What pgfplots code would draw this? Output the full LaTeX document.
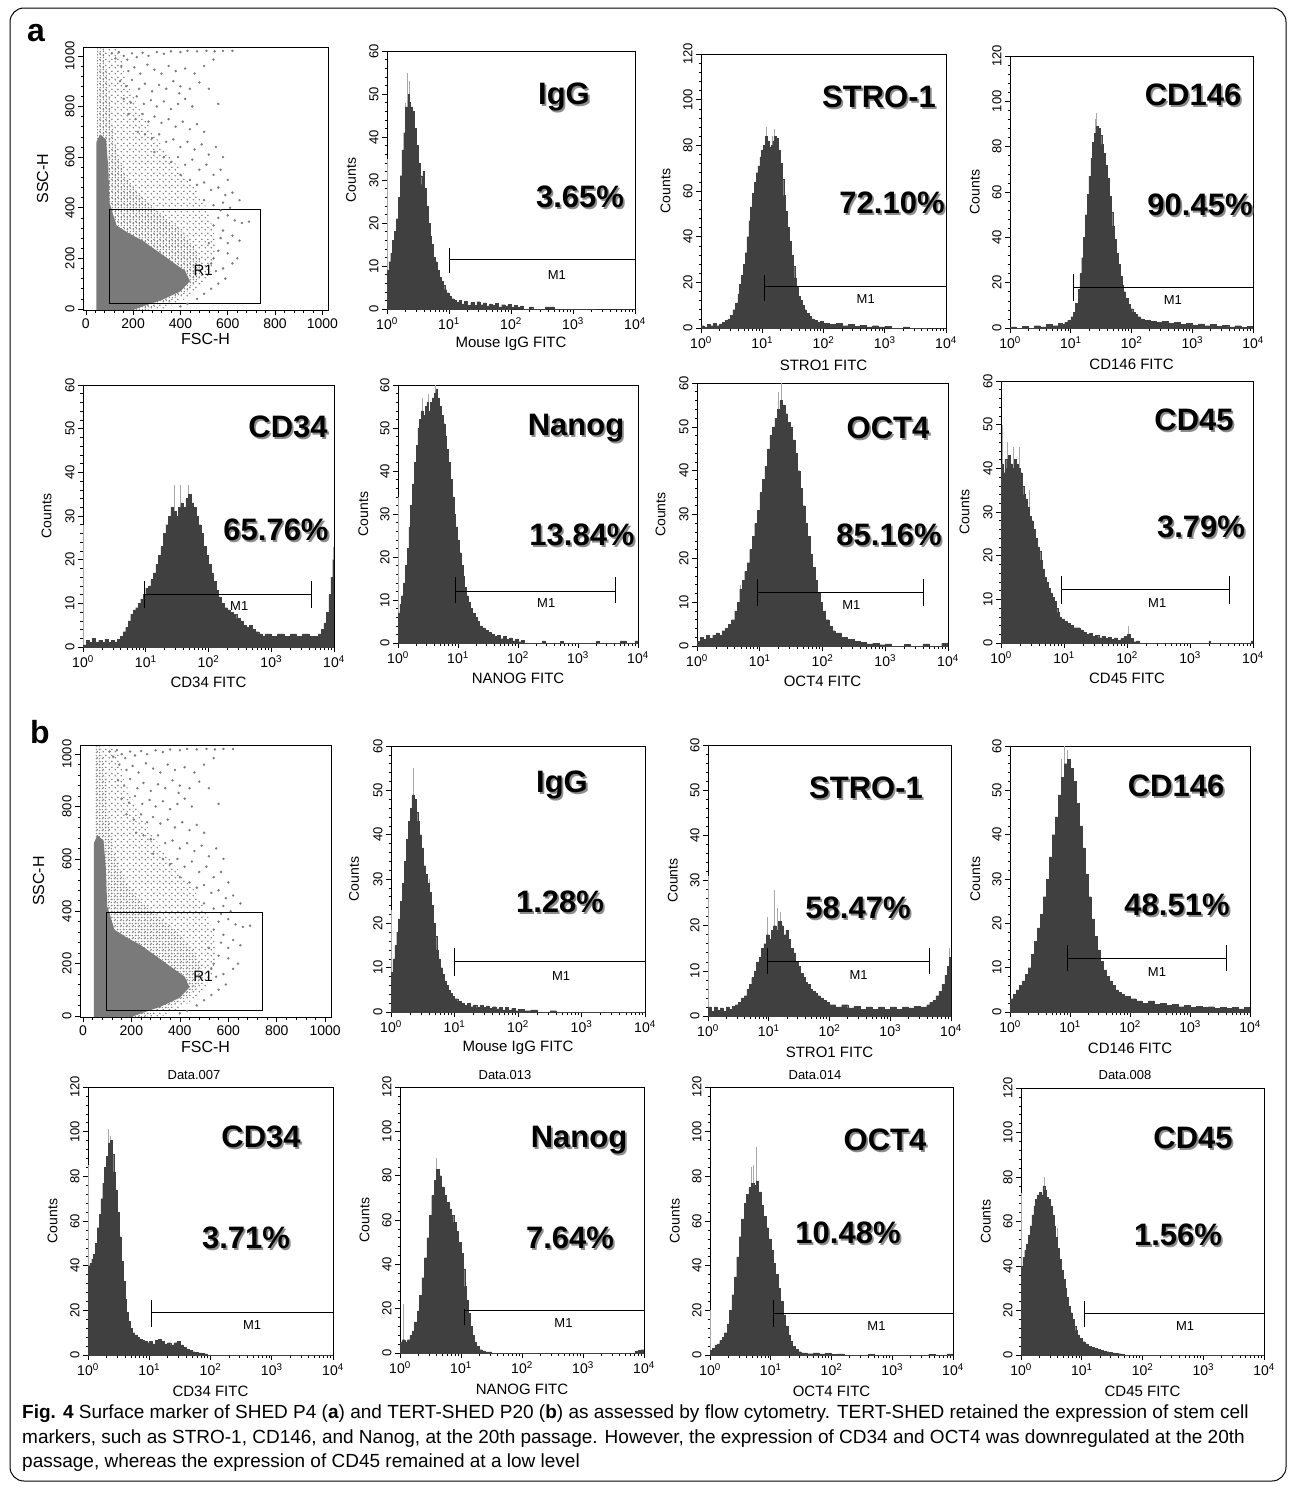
\documentclass[border=0pt]{standalone}
\usepackage{fontspec}
\setmainfont{Liberation Sans}
\newfontfamily\capfont{Liberation Sans}
\usepackage{pgfplots}
\pgfplotsset{compat=1.18}
\usetikzlibrary{patterns.meta}

\definecolor{histfill}{HTML}{404040}
\definecolor{spike}{HTML}{A8A8A8}
\definecolor{dotgray}{HTML}{7A7A7A}
\definecolor{shadow}{HTML}{8C8C8C}

\newcommand\fs[1]{\fontsize{#1}{#1}\selectfont}
\newcommand\dec[1]{10\textsuperscript{#1}}

\tikzdeclarepattern{name=fdots, type=uncolored,
  bounding box={(0pt,0pt) and (3.2pt,3.2pt)}, tile size={(3.2pt,3.2pt)},
  code={\fill (1.6pt,1.6pt) circle (0.9pt);}}
\tikzdeclarepattern{name=sdots, type=uncolored,
  bounding box={(0pt,0pt) and (6pt,6pt)}, tile size={(6pt,6pt)},
  code={\fill (1.5pt,1.5pt) circle (0.95pt); \fill (4.5pt,4.2pt) circle (0.95pt);}}

\pgfplotsset{
  facsbase/.style={
    scale only axis, anchor=south west,
    axis line style={line width=0.9pt},
    tick align=outside, xtick pos=bottom, ytick pos=left,
    major tick length=5pt, minor tick length=2.5pt,
    every tick/.style={black, line width=0.6pt},
    /pgf/number format/assume math mode=true,
    /pgf/number format/1000 sep={},
    tick label style={font=\fs{14}},
    yticklabel style={rotate=90, anchor=south, font=\fs{13}},
    every axis x label/.style={at={(axis description cs:0.5,-0.135)}, anchor=center, font=\fs{15}},
    every axis y label/.style={at={(axis description cs:-0.145,0.5)}, anchor=center, rotate=90, font=\fs{14}},
  },
  hist/.style={facsbase, xmin=0, xmax=4, ymin=0,
    xtick={0,1,2,3,4}, xticklabels={\dec0,\dec1,\dec2,\dec3,\dec4},
    minor xtick={0.301,0.477,0.602,0.699,0.778,0.845,0.903,0.954,
      1.301,1.477,1.602,1.699,1.778,1.845,1.903,1.954,
      2.301,2.477,2.602,2.699,2.778,2.845,2.903,2.954,
      3.301,3.477,3.602,3.699,3.778,3.845,3.903,3.954},
    ylabel=Counts},
  h60/.style={hist, ymax=60, ytick={0,10,...,60}, minor ytick={2,4,...,58}},
  h120/.style={hist, ymax=120, ytick={0,20,...,120}, minor ytick={4,8,...,116}},
  scat/.style={facsbase, xmin=-12, xmax=1024, ymin=-4, ymax=1035,
    xtick={0,200,...,1000}, ytick={0,200,...,1000}, minor tick num=4,
    every axis x label/.style={at={(axis description cs:0.5,-0.11)}, anchor=center, font=\fs{16}},
    every axis y label/.style={at={(axis description cs:-0.165,0.5)}, anchor=center, rotate=90, font=\fs{16}},
    xlabel=FSC-H, ylabel=SSC-H},
  spikes/.style={ycomb, draw=spike, line width=0.9pt, forget plot},
  histo/.style={const plot, fill=histfill, draw=histfill, line width=0.3pt},
}

% M1 marker: line to right edge, tick at left
\newcommand\MoneL[6]{%
  \draw[line width=0.7pt] (axis cs:#2,#1) -- (axis cs:4,#1);
  \draw[line width=0.7pt] (axis cs:#2,#3) -- (axis cs:#2,#4);
  \node[font=\fs{13}] at (axis cs:#5,#6) {M1};}
% M1 marker with ticks at both ends
\newcommand\MoneB[7]{%
  \draw[line width=0.7pt] (axis cs:#2,#1) -- (axis cs:#3,#1);
  \draw[line width=0.7pt] (axis cs:#2,#4) -- (axis cs:#2,#5);
  \draw[line width=0.7pt] (axis cs:#3,#4) -- (axis cs:#3,#5);
  \node[font=\fs{13}] at (axis cs:#6,#7) {M1};}

\newcommand\biglabel[3]{%
  \node[text=shadow, font=\bfseries\fs{31}] at (#1pt+1.8pt,-#2pt-1.8pt) {#3};
  \node[font=\bfseries\fs{31}] at (#1pt,-#2pt) {#3};}

% scatter: sparse events outside the dense core
\pgfplotstableread{
x y
110 1010
125 990
140 1015
160 1000
175 985
195 1010
215 995
240 1012
265 1000
300 1015
330 1008
360 1018
400 1015
430 1020
470 1018
510 1020
545 1018
580 1020
620 1020
150 960
180 940
205 955
230 930
260 965
290 945
320 930
350 960
380 940
420 950
460 930
500 960
540 985
145 900
170 880
195 905
225 870
250 890
280 860
310 885
340 870
370 900
400 880
440 870
480 895
520 870
560 810
160 830
190 815
215 840
245 810
275 825
300 800
330 820
360 790
390 810
420 830
450 800
395 852
180 770
210 750
240 770
265 740
290 760
320 735
350 750
380 720
410 740
440 710
470 730
500 700
220 700
250 690
280 675
310 690
340 660
370 670
400 640
430 660
460 630
490 650
520 610
550 640
580 600
290 620
330 600
360 580
390 600
420 570
450 590
480 550
510 570
540 530
570 550
600 510
400 530
440 510
470 490
500 500
530 470
560 480
590 450
620 460
650 430
580 420
610 400
500 430
540 410
570 390
600 370
630 350
660 340
690 345
560 360
540 330
580 310
620 290
650 270
600 260
570 280
560 230
600 220
640 200
620 180
580 160
550 150
590 120
560 100
530 80
500 60
470 40
430 20
400 10
540 200
520 260
530 180
}\scatterpts

\newcommand\scatterbody{%
  \addplot[pattern={sdots}, pattern color=dotgray, draw=none] coordinates {
    (50,1030) (140,1030) (170,900) (220,800) (280,700) (340,620) (400,550)
    (460,480) (510,400) (540,310) (550,230) (530,150) (490,90) (420,40)
    (320,-4) (50,-4)} -- cycle;
  \addplot[pattern={fdots}, pattern color=dotgray, draw=none] coordinates {
    (46,600) (48,1030) (75,1030) (95,900) (105,760) (130,620) (170,520)
    (230,450) (300,390) (380,330) (450,260) (490,190) (480,120) (430,70)
    (350,30) (260,-4) (46,-4)} -- cycle;
  \addplot[fill=dotgray, draw=none] coordinates {
    (45,-4) (45,660) (60,690) (85,670) (95,560) (100,420) (130,330) (180,300)
    (240,270) (300,230) (360,190) (420,150) (440,110) (400,70) (320,35)
    (240,10) (200,-4)} -- cycle;
  \addplot[only marks, mark=*, mark size=1pt, dotgray] table {\scatterpts};
  \draw[line width=0.7pt] (axis cs:98,21) rectangle (axis cs:740,395);
  \node[font=\fs{15}] at (axis cs:496,153) {R1};}

\begin{document}
\begin{tikzpicture}
\useasboundingbox (0,0) rectangle (1295pt,-1491pt);
\draw[line width=1pt, rounded corners=14pt] (10pt,-8pt) rectangle (1286pt,-1481pt);
\node[font=\bfseries\fs{32}] at (36pt,-33pt) {a};
\node[font=\bfseries\fs{32}] at (40pt,-732pt) {b};

% ---------- a, top row ----------
\begin{axis}[scat, at={(83pt,-310pt)}, width=245pt, height=263pt]
\scatterbody
\end{axis}

\begin{axis}[h60, at={(387pt,-309pt)}, width=248pt, height=258pt, xlabel={Mouse IgG FITC}]
\addplot[spikes] coordinates {(0.01,35) (0.33,55) (0.36,53) (0.6,32) (0.3,48)};
\addplot[histo] coordinates {(0,9) (0.03,11) (0.06,13) (0.09,16) (0.12,18) (0.15,21) (0.18,26) (0.21,31) (0.24,37) (0.27,41) (0.3,47) (0.32,44) (0.34,50) (0.36,48) (0.38,47) (0.41,46) (0.44,42) (0.47,38) (0.5,34) (0.53,31) (0.56,29) (0.58,32) (0.6,28) (0.63,24) (0.66,20) (0.69,17) (0.72,15) (0.75,12) (0.78,11) (0.81,9) (0.84,7.5) (0.87,6.5) (0.9,5.5) (0.93,4.5) (0.96,3.8) (1,3) (1.04,2.4) (1.08,2) (1.12,1.6) (1.16,2) (1.2,1.2) (1.25,1.8) (1.3,0.9) (1.35,1.5) (1.4,0.8) (1.45,1.7) (1.5,1) (1.55,1.4) (1.6,0.7) (1.65,1.2) (1.7,0.8) (1.75,1.3) (1.8,0.5) (1.85,1) (1.9,0.6) (1.95,1.1) (2,0.5) (2.05,0.9) (2.1,0.4) (2.15,0.7) (2.2,0) (2.3,0.5) (2.35,0) (2.55,0.5) (2.62,0.5) (2.7,0) (4,0)} \closedcycle;
\MoneL{11.5}{1.0}{8.4}{14.3}{2.74}{8}
\end{axis}

\begin{axis}[h120, at={(701pt,-328pt)}, width=245pt, height=274pt, xlabel={STRO1 FITC}]
\addplot[spikes] coordinates {(1.07,88) (1.2,87) (1.17,84)};
\addplot[histo] coordinates {(0,1) (0.05,0.5) (0.1,1.5) (0.15,1) (0.2,2) (0.25,1) (0.3,1.8) (0.35,2.5) (0.4,3.5) (0.44,4) (0.48,5.5) (0.52,8) (0.56,11) (0.6,15) (0.63,19) (0.66,23) (0.69,28) (0.72,33) (0.75,40) (0.78,47) (0.81,53) (0.84,59) (0.87,64) (0.9,68) (0.93,71) (0.96,75) (0.99,78) (1.02,80) (1.05,84) (1.08,82) (1.11,79) (1.14,80) (1.17,82) (1.2,84) (1.23,83) (1.26,78) (1.29,72) (1.32,65) (1.35,58) (1.38,51) (1.41,44) (1.44,38) (1.47,32) (1.5,27) (1.53,22) (1.56,18) (1.59,14) (1.62,12) (1.65,10) (1.68,8) (1.72,6.5) (1.76,5) (1.8,4) (1.85,3.5) (1.9,2.5) (1.95,3) (2,2) (2.1,1.5) (2.2,2) (2.3,1) (2.4,1.5) (2.5,0.8) (2.6,1.2) (2.7,0.5) (2.8,1) (2.9,0.5) (3,0.8) (3.1,0) (3.3,0.5) (3.4,0) (4,0)} \closedcycle;
\MoneL{18.3}{1.04}{12}{23}{2.69}{12.9}
\end{axis}

\begin{axis}[h120, at={(1010pt,-328pt)}, width=243pt, height=272pt, xlabel={CD146 FITC}]
\addplot[spikes] coordinates {(1.42,95) (1.4,92)};
\addplot[histo] coordinates {(0,0.5) (0.1,0) (0.2,0.8) (0.3,0) (0.4,1) (0.5,0.5) (0.6,1.5) (0.7,1) (0.8,2) (0.85,1.5) (0.9,2.5) (0.95,3.5) (1,5) (1.04,7) (1.08,11) (1.12,17) (1.15,24) (1.18,31) (1.21,40) (1.24,50) (1.27,59) (1.3,67) (1.33,75) (1.36,82) (1.39,86) (1.42,89) (1.45,88) (1.48,85) (1.51,81) (1.54,77) (1.57,72) (1.6,66) (1.63,58) (1.66,51) (1.69,45) (1.72,39) (1.75,33) (1.78,28) (1.81,23) (1.84,19) (1.87,16) (1.9,13) (1.94,10.5) (1.98,8.5) (2.02,7) (2.06,6) (2.1,5) (2.15,4) (2.2,3.5) (2.3,3) (2.4,2.5) (2.5,3) (2.6,2) (2.7,2.5) (2.8,1.5) (2.9,2) (3,1.2) (3.1,1.8) (3.2,1) (3.3,1.5) (3.4,0.8) (3.5,1.2) (3.6,0.5) (3.7,1) (3.8,0.3) (3.9,0.6) (4,0)} \closedcycle;
\MoneL{18}{1.04}{12}{24}{2.68}{12.5}
\end{axis}

% ---------- a, bottom row ----------
\begin{axis}[h60, at={(83pt,-647pt)}, width=251pt, height=262pt, xlabel={CD34 FITC}]
\addplot[spikes] coordinates {(0.005,28) (1.45,37) (1.56,37) (1.68,37) (3.99,23)};
\addplot[histo] coordinates {(0,0.5) (0.05,1.5) (0.1,1) (0.15,2) (0.2,1) (0.25,1.5) (0.3,1) (0.35,1.8) (0.4,1) (0.45,1.5) (0.5,1.2) (0.55,1.8) (0.6,2.5) (0.64,3.5) (0.68,4.5) (0.72,6) (0.76,7.5) (0.8,8.5) (0.84,9) (0.88,10) (0.92,11) (0.96,12) (1,13.5) (1.04,14) (1.08,15.5) (1.12,17) (1.16,19) (1.2,21) (1.24,23) (1.28,26) (1.32,28) (1.36,30) (1.4,32) (1.44,31) (1.48,30) (1.52,32) (1.56,33) (1.6,32) (1.64,34) (1.68,35) (1.72,33) (1.76,32) (1.8,30) (1.84,28) (1.88,26) (1.92,23) (1.96,21) (2,19) (2.04,17) (2.08,15) (2.12,13) (2.16,11.5) (2.2,10) (2.25,9) (2.3,8.5) (2.35,8) (2.4,7.5) (2.45,6.5) (2.5,6) (2.55,5) (2.6,4.5) (2.65,5) (2.7,4) (2.75,3.5) (2.8,3) (2.85,2.5) (2.9,3) (3,2.5) (3.1,3) (3.2,2.5) (3.3,3) (3.4,2.5) (3.5,3) (3.6,2.5) (3.7,2.5) (3.75,3) (3.8,4) (3.84,5.5) (3.88,8) (3.92,12) (3.95,16) (3.98,20) (4,20)} \closedcycle;
\MoneB{12}{0.985}{3.64}{8.9}{15.2}{2.49}{9.3}
\end{axis}

\begin{axis}[h60, at={(398pt,-643pt)}, width=240pt, height=258pt, xlabel={NANOG FITC}]
\addplot[spikes] coordinates {(0.005,34) (0.4,57) (0.5,58) (0.62,60)};
\addplot[histo] coordinates {(0,7) (0.03,9) (0.06,11) (0.09,14) (0.12,18) (0.15,22) (0.18,27) (0.21,32) (0.24,37) (0.27,42) (0.3,46) (0.33,50) (0.36,52) (0.39,54) (0.42,53) (0.45,55) (0.48,56) (0.51,54) (0.54,56) (0.57,57) (0.6,58) (0.63,59) (0.66,57) (0.69,55) (0.72,53) (0.75,51) (0.78,48) (0.81,45) (0.84,42) (0.87,38) (0.9,34) (0.93,30) (0.96,27) (0.99,24) (1.02,21) (1.05,18) (1.08,15.5) (1.11,13) (1.14,11) (1.17,9.5) (1.2,8) (1.24,7) (1.28,6) (1.32,5) (1.36,4) (1.4,3.5) (1.45,3) (1.5,2.5) (1.55,2) (1.6,1.5) (1.65,1.8) (1.7,1) (1.75,1.5) (1.8,0.8) (1.85,1.2) (1.9,0.5) (1.95,0.8) (2,0.3) (2.05,0.6) (2.1,0) (2.4,0.5) (2.45,0) (2.7,0.4) (2.75,0) (3.3,0.4) (3.35,0) (3.7,0.5) (3.8,0) (3.95,0.5) (4,0)} \closedcycle;
\MoneB{12.1}{0.96}{3.62}{9.2}{15.4}{2.47}{9.2}
\end{axis}

\begin{axis}[h60, at={(697pt,-646pt)}, width=251pt, height=263pt, xlabel={OCT4 FITC}]
\addplot[spikes] coordinates {(1.34,60) (1.3,58) (0.7,14)};
\addplot[histo] coordinates {(0,1) (0.05,2) (0.1,1.5) (0.15,2.5) (0.2,1.8) (0.25,2.5) (0.3,3) (0.35,2.5) (0.4,3.5) (0.45,4) (0.5,5) (0.55,6) (0.6,8) (0.64,10) (0.68,13) (0.72,15) (0.76,17) (0.8,19) (0.84,22) (0.88,25) (0.92,28) (0.96,31) (1,35) (1.04,38) (1.08,41) (1.12,45) (1.16,48) (1.2,50) (1.24,52) (1.28,54) (1.32,56) (1.36,55) (1.4,53) (1.44,51) (1.48,50) (1.52,47) (1.56,44) (1.6,40) (1.64,36) (1.68,32) (1.72,28) (1.76,25) (1.8,21) (1.84,18) (1.88,15) (1.92,12) (1.96,10) (2,8) (2.05,6) (2.1,4.5) (2.15,3.5) (2.2,3) (2.3,2) (2.4,1.5) (2.5,1) (2.6,0.8) (2.7,0.5) (2.8,0.6) (2.9,0.3) (3,0.5) (3.1,0) (3.3,0.4) (3.4,0) (3.6,0.5) (3.7,0) (3.9,0.6) (4,0)} \closedcycle;
\MoneB{12.3}{0.96}{3.60}{9.2}{15.2}{2.46}{9.3}
\end{axis}

\begin{axis}[h60, at={(1001pt,-643pt)}, width=252pt, height=262pt, xlabel={CD45 FITC}]
\addplot[spikes] coordinates {(0.02,50) (0.1,46) (0.2,45) (0.3,45) (0.45,35) (2.02,4)};
\addplot[histo] coordinates {(0,41) (0.03,39) (0.06,42) (0.09,40) (0.12,43) (0.15,41) (0.18,40) (0.21,42) (0.24,41) (0.27,40) (0.3,39) (0.33,36) (0.36,34) (0.39,33) (0.42,31) (0.45,29) (0.48,28) (0.51,26) (0.54,24) (0.57,22) (0.6,21) (0.63,19) (0.66,17) (0.69,15) (0.72,14) (0.75,12.5) (0.78,11.5) (0.81,10.5) (0.84,9.5) (0.87,8) (0.9,7) (0.93,6) (0.96,5.5) (1,5) (1.05,4.5) (1.1,4) (1.15,3.5) (1.2,3.5) (1.25,3) (1.3,2.5) (1.35,2) (1.4,2.2) (1.45,1.5) (1.5,1.8) (1.55,1.2) (1.6,1.5) (1.65,1) (1.7,1.3) (1.75,0.8) (1.8,1.2) (1.85,0.6) (1.9,1) (1.95,1.5) (2,2) (2.05,1) (2.1,0.3) (2.15,0.5) (2.2,0) (3.3,0.5) (3.32,0) (3.97,0.5) (4,0)} \closedcycle;
\MoneB{12.2}{0.96}{3.62}{9}{15.3}{2.48}{9.2}
\end{axis}

% ---------- b, top row ----------
\begin{axis}[scat, at={(80pt,-1017pt)}, width=251pt, height=272pt]
\scatterbody
\end{axis}

\begin{axis}[h60, at={(391pt,-1012pt)}, width=254pt, height=266pt, xlabel={Mouse IgG FITC}]
\addplot[spikes] coordinates {(0.005,23) (0.35,55) (0.6,30)};
\addplot[histo] coordinates {(0,9) (0.03,12) (0.06,15) (0.09,18) (0.12,21) (0.15,25) (0.18,29) (0.21,34) (0.24,39) (0.27,43) (0.3,46) (0.33,49) (0.36,48) (0.39,45) (0.42,43) (0.45,40) (0.48,37) (0.51,33) (0.54,31) (0.57,29) (0.6,27) (0.63,24) (0.66,20) (0.69,17) (0.72,14) (0.75,12) (0.78,10) (0.81,8.5) (0.84,7) (0.87,6) (0.9,5) (0.93,4.2) (0.96,3.5) (1,3) (1.05,2.4) (1.1,2) (1.15,1.5) (1.2,2) (1.25,1.2) (1.3,1.6) (1.35,1) (1.4,1.5) (1.45,1) (1.5,1.4) (1.55,0.8) (1.6,1.2) (1.65,0.7) (1.7,1) (1.75,0.5) (1.8,1) (1.85,0.5) (1.9,0.8) (1.95,0.3) (2,0.6) (2.1,0.3) (2.2,0.5) (2.3,0) (2.5,0.3) (2.6,0) (4,0)} \closedcycle;
\MoneL{11.5}{0.99}{8.1}{14.5}{2.68}{8.2}
\end{axis}

\begin{axis}[h60, at={(708pt,-1016pt)}, width=243pt, height=271pt, xlabel={STRO1 FITC}]
\addplot[spikes] coordinates {(0.005,31) (1.1,28) (1.15,24) (1.2,23) (0.98,22) (3.98,15)};
\addplot[histo] coordinates {(0,2) (0.05,1) (0.1,2) (0.15,1.2) (0.2,1.8) (0.25,1) (0.3,2) (0.35,1.5) (0.4,2.2) (0.45,2.5) (0.5,3) (0.55,4) (0.6,4.5) (0.64,6) (0.68,7) (0.72,8.5) (0.76,10) (0.8,12) (0.84,13) (0.88,15) (0.92,16) (0.96,18) (1,17) (1.04,19) (1.08,20) (1.12,19) (1.16,21) (1.2,20) (1.24,18) (1.28,19) (1.32,17) (1.36,15) (1.4,14) (1.44,12) (1.48,11) (1.52,9.5) (1.56,8.5) (1.6,7.5) (1.64,7) (1.68,6) (1.72,5.5) (1.76,5) (1.8,4.5) (1.85,4) (1.9,3.5) (1.95,3) (2,2.5) (2.1,2) (2.2,2.5) (2.3,1.8) (2.4,2.2) (2.5,1.5) (2.6,2) (2.7,1.5) (2.8,2) (2.9,1.5) (3,2) (3.1,1.5) (3.2,2) (3.3,1.8) (3.4,2.2) (3.5,2) (3.6,2.5) (3.65,3) (3.7,3.5) (3.75,4.5) (3.8,5.5) (3.85,7) (3.9,9) (3.94,11) (3.97,13) (4,12)} \closedcycle;
\MoneB{12.2}{0.98}{3.64}{9.3}{15}{2.48}{9}
\end{axis}

\begin{axis}[h60, at={(1010pt,-1012pt)}, width=240pt, height=266pt, xlabel={CD146 FITC}]
\addplot[spikes] coordinates {(0.9,60) (0.95,59) (0.85,57)};
\addplot[histo] coordinates {(0,3) (0.05,4) (0.1,5) (0.15,6) (0.2,7) (0.25,8.5) (0.3,10) (0.35,13) (0.4,16) (0.45,19) (0.5,22) (0.55,26) (0.6,30) (0.65,35) (0.7,40) (0.75,44) (0.8,49) (0.85,53) (0.9,56) (0.95,57) (1,55) (1.05,52) (1.1,47) (1.15,42) (1.2,37) (1.25,31) (1.3,26) (1.35,21) (1.4,17) (1.45,14) (1.5,11.5) (1.55,9.5) (1.6,8) (1.65,7) (1.7,6) (1.75,5) (1.8,4.5) (1.85,4) (1.9,3.5) (2,3) (2.1,2.5) (2.2,2) (2.3,2.5) (2.4,1.8) (2.5,2) (2.6,1.5) (2.7,1.8) (2.8,1.2) (2.9,1.5) (3,1) (3.1,1.3) (3.2,1) (3.3,1.2) (3.4,0.8) (3.5,1) (3.6,0.8) (3.7,1) (3.8,0.7) (3.9,1) (4,1)} \closedcycle;
\MoneB{12.2}{0.95}{3.6}{9.2}{15.2}{2.45}{9}
\end{axis}

% ---------- b, bottom row ----------
\begin{axis}[h120, at={(88pt,-1355pt)}, width=245pt, height=268pt, xlabel={CD34 FITC}]
\addplot[spikes] coordinates {(0.005,85) (0.33,101) (0.36,98)};
\addplot[histo] coordinates {(0,40) (0.03,41) (0.06,43) (0.09,45) (0.12,50) (0.15,57) (0.18,63) (0.21,70) (0.24,77) (0.27,84) (0.3,89) (0.33,95) (0.36,96) (0.39,90) (0.42,82) (0.45,74) (0.48,64) (0.51,53) (0.54,42) (0.57,33) (0.6,25) (0.63,19) (0.66,15) (0.69,12) (0.72,10) (0.76,9) (0.8,8) (0.84,7) (0.88,6.5) (0.92,6) (0.96,5.5) (1,6) (1.05,5) (1.1,6.5) (1.15,7) (1.2,6) (1.25,5) (1.3,5.5) (1.35,4.5) (1.4,5.5) (1.45,6) (1.5,4.5) (1.55,3.5) (1.6,2.5) (1.65,2) (1.7,1.5) (1.75,1.2) (1.8,1) (1.85,0.8) (1.9,0.5) (1.95,0) (4,0)} \closedcycle;
\MoneL{18.9}{1.04}{12.7}{24.6}{2.68}{13.4}
\end{axis}

\begin{axis}[h120, at={(400pt,-1353pt)}, width=244pt, height=266pt, xlabel={NANOG FITC}]
\addplot[spikes] coordinates {(0.05,22) (0.6,88)};
\addplot[histo] coordinates {(0,5) (0.04,6) (0.08,5) (0.12,6) (0.16,8) (0.2,10) (0.24,14) (0.28,19) (0.32,26) (0.36,34) (0.4,43) (0.44,52) (0.48,62) (0.52,71) (0.56,78) (0.6,83) (0.64,80) (0.68,75) (0.72,71) (0.76,68) (0.8,65) (0.84,62) (0.88,59) (0.92,55) (0.96,50) (1,45) (1.03,38) (1.06,30) (1.09,24) (1.12,18) (1.15,12) (1.18,8) (1.21,5) (1.25,3) (1.3,1.5) (1.35,1) (1.4,0.5) (1.5,0) (3.85,0.8) (3.9,1.2) (3.95,1.5) (4,1)} \closedcycle;
\MoneL{19.2}{1.06}{12.5}{20}{2.68}{13.5}
\end{axis}

\begin{axis}[h120, at={(710pt,-1355pt)}, width=243pt, height=268pt, xlabel={OCT4 FITC}]
\addplot[spikes] coordinates {(0.005,20) (0.76,93) (0.72,85) (0.68,84)};
\addplot[histo] coordinates {(0,2) (0.04,3) (0.08,4.5) (0.12,5) (0.16,6.5) (0.2,8) (0.24,10) (0.28,14) (0.32,20) (0.36,27) (0.4,35) (0.44,44) (0.48,53) (0.52,61) (0.56,68) (0.6,72) (0.64,75) (0.68,77) (0.72,76) (0.76,78) (0.8,73) (0.84,67) (0.88,62) (0.92,57) (0.96,52) (1,47) (1.04,41) (1.08,36) (1.12,30) (1.16,24) (1.2,18) (1.24,13) (1.28,9) (1.32,6) (1.36,4) (1.4,2.5) (1.45,1.5) (1.5,1) (1.6,0.6) (1.7,1) (1.8,0.5) (1.9,0.8) (2,0.3) (2.1,0.5) (2.2,0) (2.6,0.3) (2.7,0) (3.6,0.4) (3.7,0) (3.9,0.5) (4,0)} \closedcycle;
\MoneL{18.7}{1.05}{12.7}{24.7}{2.74}{13.2}
\end{axis}

\begin{axis}[h120, at={(1021pt,-1355pt)}, width=243pt, height=267pt, xlabel={CD45 FITC}]
\addplot[spikes] coordinates {(0.01,73) (0.38,80) (0.6,57)};
\addplot[histo] coordinates {(0,40) (0.03,44) (0.06,47) (0.09,50) (0.12,54) (0.15,58) (0.18,63) (0.21,67) (0.24,70) (0.27,72) (0.3,73) (0.33,72) (0.36,76) (0.39,74) (0.42,71) (0.45,70) (0.48,67) (0.51,63) (0.54,58) (0.57,53) (0.6,48) (0.63,43) (0.66,38) (0.69,34) (0.72,30) (0.75,26) (0.78,22) (0.81,19) (0.84,16) (0.87,13) (0.9,11) (0.93,9) (0.96,7.5) (1,6) (1.05,5) (1.1,4) (1.15,3.5) (1.2,3) (1.25,2.5) (1.3,2) (1.35,1.8) (1.4,1.5) (1.45,1.2) (1.5,1) (1.55,0.8) (1.6,0.6) (1.65,0.4) (1.7,0) (4,0)} \closedcycle;
\MoneL{18.75}{1.04}{12.7}{24.5}{2.70}{13.2}
\end{axis}

% ---------- marker names and percentages ----------
\biglabel{564}{97}{IgG}      \biglabel{580}{197}{3.65\%}
\biglabel{879}{97}{STRO-1}   \biglabel{892}{203}{72.10\%}
\biglabel{1193}{95}{CD146}   \biglabel{1200}{205}{90.45\%}
\biglabel{288}{427}{CD34}    \biglabel{276}{530}{65.76\%}
\biglabel{576}{428}{Nanog}   \biglabel{582}{535}{13.84\%}
\biglabel{888}{428}{OCT4}    \biglabel{889}{535}{85.16\%}
\biglabel{1194}{420}{CD45}   \biglabel{1201}{527}{3.79\%}
\biglabel{562}{785}{IgG}     \biglabel{560}{902}{1.28\%}
\biglabel{866}{788}{STRO-1}  \biglabel{858}{908}{58.47\%}
\biglabel{1176}{786}{CD146}  \biglabel{1177}{905}{48.51\%}
\biglabel{261}{1137}{CD34}   \biglabel{246}{1238}{3.71\%}
\biglabel{579}{1140}{Nanog}  \biglabel{570}{1238}{7.64\%}
\biglabel{885}{1140}{OCT4}   \biglabel{848}{1233}{10.48\%}
\biglabel{1193}{1138}{CD45}  \biglabel{1178}{1235}{1.56\%}

\node[font=\fs{13}] at (194pt,-1075pt) {Data.007};
\node[font=\fs{13}] at (505pt,-1075pt) {Data.013};
\node[font=\fs{13}] at (815pt,-1075pt) {Data.014};
\node[font=\fs{13}] at (1125pt,-1075pt) {Data.008};

% ---------- caption ----------
\begin{scope}[every node/.style={anchor=base west, inner sep=0pt, font=\capfont\fs{19}}]
\node at (22pt,-1418pt) {\textbf{Fig. 4} Surface marker of SHED P4 (\textbf{a}) and TERT-SHED P20 (\textbf{b}) as assessed by flow cytometry. TERT-SHED retained the expression of stem cell};
\node at (22pt,-1443pt) {markers, such as STRO-1, CD146, and Nanog, at the 20th passage. However, the expression of CD34 and OCT4 was downregulated at the 20th};
\node at (22pt,-1467pt) {passage, whereas the expression of CD45 remained at a low level};
\end{scope}
\end{tikzpicture}
\end{document}
